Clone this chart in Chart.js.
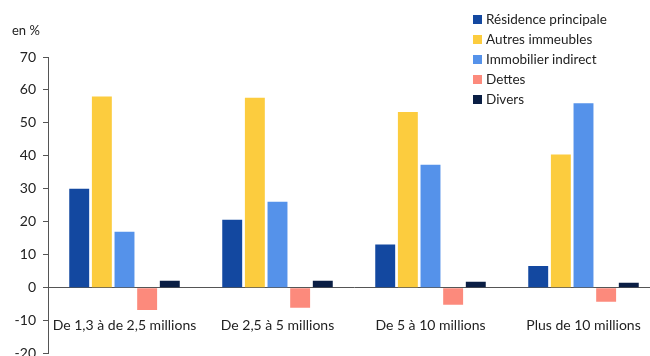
<!DOCTYPE html>
<html>
<head>
<meta charset="utf-8">
<script src="https://cdn.jsdelivr.net/npm/chart.js@4"></script>
<style>
    html, body { margin: 0; padding: 0; background: #fff; overflow: hidden; width: 650px; height: 356px; }
    #wrap { position: relative; width: 662px; height: 356px; overflow: hidden; }
    #unit { position: absolute; left: 12px; top: 22px; font: 13px Lato, "Open Sans", sans-serif; color: #222; }
    #legend { position: absolute; left: 473px; top: 9px; font: 13.5px Lato, "Open Sans", sans-serif; color: #222; }
    #legend div { height: 20px; line-height: 20px; white-space: nowrap; }
    #legend span { display: inline-block; width: 9px; height: 9px; margin-right: 4px; vertical-align: 0px; }
</style>
</head>
<body>
<div id="wrap">
    <canvas id="patrimoineChart" width="662" height="369"></canvas>
    <div id="unit">en %</div>
    <div id="legend"></div>
</div>
<script>
var categories = ['De 1,3 à de 2,5 millions', 'De 2,5 à 5 millions', 'De 5 à 10 millions', 'Plus de 10 millions'];
var seriesNames = ['Résidence principale', 'Autres immeubles', 'Immobilier indirect', 'Dettes', 'Divers'];
var residence = [30.0, 20.6, 13.1, 6.6];
var autres = [58.0, 57.6, 53.3, 40.4];
var indirect = [17.0, 26.1, 37.3, 56.0];
var dettes = [-6.8, -6.1, -5.2, -4.3];
var divers = [2.1, 2.1, 1.8, 1.5];
var yTicks = [70, 60, 50, 40, 30, 20, 10, 0, -10, -20];

var colors = ['#1348a0', '#fccc3e', '#5592ea', '#fc8a7c', '#0a1e44'];
var values = [residence, autres, indirect, dettes, divers];

document.addEventListener('DOMContentLoaded', function () {
    var ctx = document.getElementById('patrimoineChart').getContext('2d');

    var datasets = seriesNames.map(function (name, i) {
        return {
            label: name,
            data: values[i],
            backgroundColor: colors[i],
            borderWidth: 0,
            categoryPercentage: 0.74,
            barPercentage: 0.88
        };
    });

    // html legend, top right, over the plot
    var legend = document.getElementById('legend');
    seriesNames.forEach(function (name, i) {
        var row = document.createElement('div');
        row.innerHTML = '<span style="background:' + colors[i] + '"></span>' + name;
        legend.appendChild(row);
    });

    new Chart(ctx, {
        type: 'bar',
        data: { labels: categories, datasets: datasets },
        options: {
            responsive: false,
            animation: false,
            layout: { padding: { top: 57, bottom: 4, left: 0, right: 2 } },
            plugins: { legend: { display: false }, tooltip: { enabled: false } },
            scales: {
                x: {
                    position: { y: 0 },
                    grid: { display: false },
                    border: { display: true, color: '#555', width: 1 },
                    ticks: {
                        padding: 21,
                        color: '#222',
                        font: { family: 'Lato, "Open Sans", sans-serif', size: 14 }
                    }
                },
                y: {
                    min: -20,
                    max: 70,
                    afterFit: function (scale) { scale.width = 48; },
                    afterBuildTicks: function (scale) {
                        scale.ticks = yTicks.map(function (v) { return { value: v }; });
                    },
                    grid: { drawOnChartArea: false, drawTicks: true, tickLength: 5, color: '#555' },
                    border: { display: true, color: '#555', width: 1 },
                    ticks: {
                        padding: 7,
                        color: '#222',
                        font: { family: 'Lato, "Open Sans", sans-serif', size: 14 }
                    }
                }
            }
        }
    });
});
</script>
</body>
</html>
